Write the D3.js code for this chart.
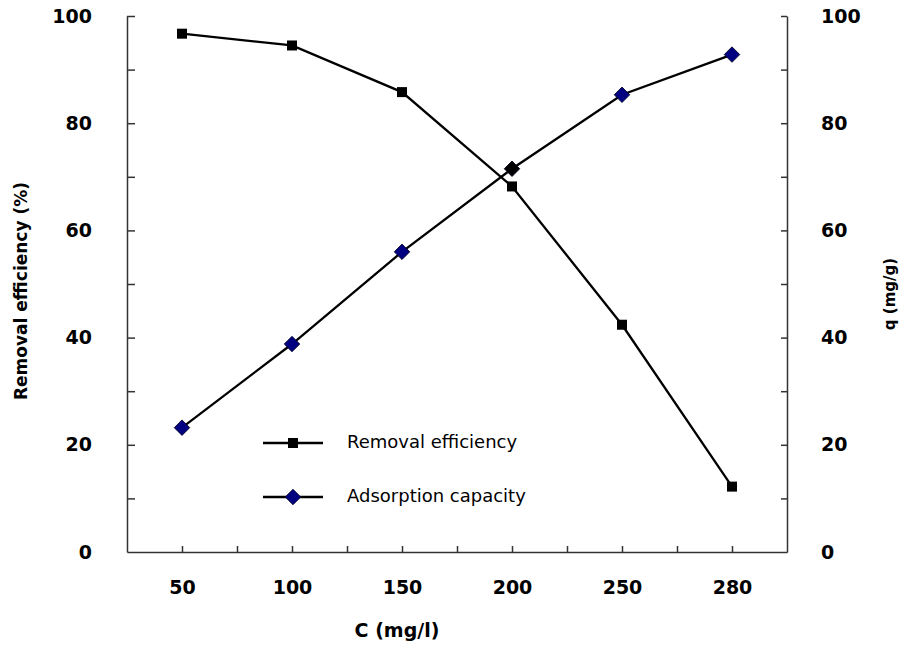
<!DOCTYPE html>
<html>
<head>
<meta charset="utf-8">
<script src="https://cdn.jsdelivr.net/npm/d3@7"></script>
<style>
  body { margin: 0; background: #fff; }
  svg { display: block; }
  text { font-family: "DejaVu Sans", sans-serif; fill: #000; }
</style>
</head>
<body>
<div id="chart"></div>
<script>
'use strict';

// Values
const concentrations = ['50', '100', '150', '200', '250', '280'];
const removalEfficiency = [96.7, 94.5, 85.8, 68.2, 42.4, 12.2];
const adsorptionCapacity = [23.2, 38.8, 56.0, 71.5, 85.3, 92.8];
const yTicks = [0, 20, 40, 60, 80, 100];

const width = 901;
const height = 645;

const plot = { left: 127, right: 787, top: 16, bottom: 552 };

const svg = d3.select('#chart')
  .append('svg')
  .attr('width', width)
  .attr('height', height);

const x = d3.scalePoint()
  .domain(concentrations)
  .range([plot.left, plot.right])
  .padding(0.5);

// index scale used only for the tick marks between and on the categories
const xIndex = d3.scaleLinear()
  .domain([-0.5, concentrations.length - 0.5])
  .range([plot.left, plot.right]);

const yLeft = d3.scaleLinear().domain([0, 100]).range([plot.bottom, plot.top]);
const yRight = d3.scaleLinear().domain([0, 100]).range([plot.bottom, plot.top]);

const axisColor = '#333';

// x axis: line + tick marks
const xTickValues = d3.range(0, concentrations.length * 2 - 1).map((i) => i / 2);
svg.append('g')
  .attr('transform', `translate(0, ${plot.bottom})`)
  .call(d3.axisBottom(xIndex).tickValues(xTickValues).tickSize(-6).tickSizeOuter(0).tickFormat(''))
  .call((g) => g.selectAll('path, line').attr('stroke', axisColor).attr('stroke-width', 1.5));

// x axis labels
svg.append('g')
  .attr('transform', `translate(0, ${plot.bottom})`)
  .call(d3.axisBottom(x).tickSize(0).tickPadding(29))
  .call((g) => g.select('.domain').remove())
  .call((g) => g.selectAll('text')
    .style('font-family', '"DejaVu Sans", sans-serif')
    .style('font-size', '19px')
    .style('font-weight', 'bold'));

const styleY = (g) => {
  g.selectAll('path, line').attr('stroke', axisColor).attr('stroke-width', 1.5);
  g.selectAll('text')
    .style('font-family', '"DejaVu Sans", sans-serif')
    .style('font-size', '19px')
    .style('font-weight', 'bold');
};

// left y axis (ticks point inward)
svg.append('g')
  .attr('transform', `translate(${plot.left}, 0)`)
  .call(d3.axisLeft(yLeft).tickValues(d3.range(0, 101, 10)).tickSize(-8).tickSizeOuter(0)
    .tickPadding(35).tickFormat((d) => yTicks.includes(d) ? d : ''))
  .call(styleY)
  .call((g) => g.selectAll('.tick').filter((d) => d === 0).select('line').remove());

// right y axis
svg.append('g')
  .attr('transform', `translate(${plot.right}, 0)`)
  .call(d3.axisRight(yRight).tickValues(d3.range(0, 101, 10)).tickSize(-6).tickSizeOuter(0)
    .tickPadding(34).tickFormat((d) => yTicks.includes(d) ? d : ''))
  .call(styleY)
  .call((g) => g.selectAll('.tick').filter((d) => d === 0).select('line').remove());

// axis titles
svg.append('text')
  .attr('x', 397)
  .attr('y', 637)
  .attr('text-anchor', 'middle')
  .style('font-size', '19px')
  .style('font-weight', 'bold')
  .text('C (mg/l)');

svg.append('text')
  .attr('transform', 'translate(27, 291) rotate(-90)')
  .attr('text-anchor', 'middle')
  .style('font-size', '17px')
  .style('font-weight', 'bold')
  .text('Removal efficiency (%)');

svg.append('text')
  .attr('transform', 'translate(895, 294) rotate(-90)')
  .attr('text-anchor', 'middle')
  .style('font-size', '15px')
  .style('font-weight', 'bold')
  .text('q (mg/g)');

// series
const removalData = concentrations.map((c, i) => ({ c, v: removalEfficiency[i] }));
const capacityData = concentrations.map((c, i) => ({ c, v: adsorptionCapacity[i] }));

const lineLeft = d3.line().x((d) => x(d.c)).y((d) => yLeft(d.v));
const lineRight = d3.line().x((d) => x(d.c)).y((d) => yRight(d.v));

svg.append('path')
  .datum(removalData)
  .attr('d', lineLeft)
  .attr('fill', 'none')
  .attr('stroke', '#000')
  .attr('stroke-width', 2.3);

svg.append('path')
  .datum(capacityData)
  .attr('d', lineRight)
  .attr('fill', 'none')
  .attr('stroke', '#000')
  .attr('stroke-width', 2.3);

const squareSize = 10;
const diamond = d3.symbol().type(d3.symbolSquare).size(120);

svg.selectAll('.sq')
  .data(removalData)
  .join('rect')
  .attr('class', 'sq')
  .attr('x', (d) => x(d.c) - squareSize / 2)
  .attr('y', (d) => yLeft(d.v) - squareSize / 2)
  .attr('width', squareSize)
  .attr('height', squareSize)
  .attr('fill', '#000');

svg.selectAll('.dm')
  .data(capacityData)
  .join('path')
  .attr('class', 'dm')
  .attr('d', diamond)
  .attr('transform', (d) => `translate(${x(d.c)}, ${yRight(d.v)}) rotate(45)`)
  .attr('fill', (d) => d.c === '200' ? '#000' : '#000080')
  .attr('stroke', '#000022')
  .attr('stroke-width', 0.8);

// legend
const legend = svg.append('g').attr('transform', 'translate(263, 443)');
const legendItems = ['Removal efficiency', 'Adsorption capacity'];

legendItems.forEach((name, i) => {
  const row = legend.append('g').attr('transform', `translate(0, ${i * 54})`);
  row.append('line')
    .attr('x1', 0).attr('x2', 60)
    .attr('stroke', '#000').attr('stroke-width', 2.3);
  if (i === 0) {
    row.append('rect')
      .attr('x', 30 - squareSize / 2).attr('y', -squareSize / 2)
      .attr('width', squareSize).attr('height', squareSize)
      .attr('fill', '#000');
  } else {
    row.append('path')
      .attr('d', diamond)
      .attr('transform', 'translate(30, 0) rotate(45)')
      .attr('fill', '#000080')
      .attr('stroke', '#000022')
      .attr('stroke-width', 0.8);
  }
  row.append('text')
    .attr('x', 84)
    .attr('y', 5)
    .style('font-size', '18px')
    .text(name);
});
</script>
</body>
</html>
